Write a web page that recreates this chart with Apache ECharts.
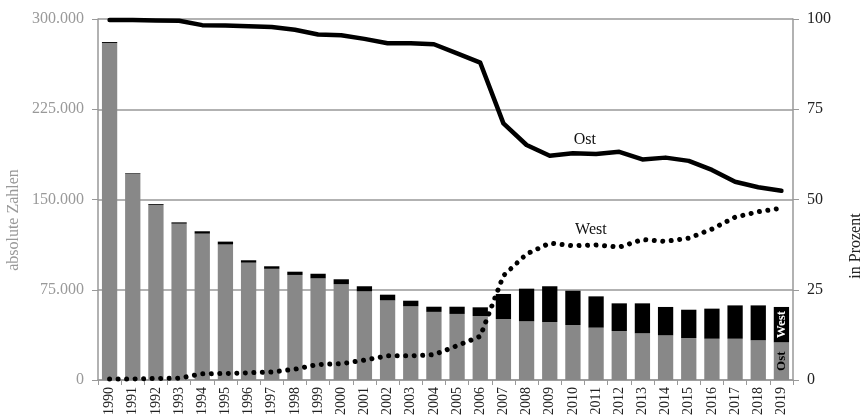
<!DOCTYPE html>
<html><head><meta charset="utf-8">
<script src="https://cdn.jsdelivr.net/npm/echarts@6/dist/echarts.min.js"></script>
<style>html,body{margin:0;padding:0;background:#fff}#c{width:865px;height:419px}</style>
</head><body><div id="c"></div>
<script>
const years = ['1990','1991','1992','1993','1994','1995','1996','1997','1998','1999','2000','2001','2002','2003','2004','2005','2006','2007','2008','2009','2010','2011','2012','2013','2014','2015','2016','2017','2018','2019'];
const ostAbs = [280100,171500,145500,129900,121600,112600,97500,92400,87300,84500,79700,73700,66200,61400,56600,54900,53200,50700,48800,48200,45700,43500,40700,38800,37100,34900,34300,34300,33000,31300];
const westAbs = [800,500,700,1100,2000,2400,2000,2100,2700,3800,4000,4200,4700,4500,4300,6000,7200,20800,27100,29700,28500,26000,23000,24900,23600,23500,25000,27700,29000,29400];
const ostPct = [99.7,99.7,99.6,99.5,98.3,98.2,98.0,97.8,97.0,95.7,95.5,94.5,93.3,93.3,93.0,90.5,87.9,71.1,65.1,62.1,62.8,62.6,63.2,61.1,61.6,60.7,58.2,54.9,53.4,52.4];
const westPct = [0.3,0.3,0.4,0.5,1.7,1.8,2.0,2.2,3.0,4.3,4.5,5.5,6.7,6.7,7.0,9.5,12.1,28.9,34.9,37.9,37.2,37.4,36.8,38.9,38.4,39.3,41.8,45.1,46.6,47.6];
const leftTicks = {min:0, max:300000, interval:75000};
const rightTicks = {min:0, max:100, interval:25};

const serif = 'Liberation Serif';
const last = years.length - 1;
const fmtDe = v => String(v).replace(/\B(?=(\d{3})+(?!\d))/g, '.');

const ostBarData = ostAbs.map((v,i) => i === last ? {value:v, label:{show:true, formatter:'Ost', rotate:90, color:'#000', fontWeight:'bold', fontFamily:serif, fontSize:13, position:'inside'}} : v);
const westBarData = westAbs.map((v,i) => i === last ? {value:v, label:{show:true, formatter:'West', rotate:90, color:'#fff', fontWeight:'bold', fontFamily:serif, fontSize:13, position:'inside'}} : v);
const lblIdx = years.indexOf('2010');
const ostLineData = ostPct.map((v,i) => i === lblIdx ? {value:v, label:{show:true, formatter:'Ost', position:'top', distance:5, offset:[12,0], color:'#111', fontFamily:serif, fontSize:16}} : v);
const westLineData = westPct.map((v,i) => i === lblIdx ? {value:v, label:{show:true, formatter:'West', position:'top', distance:5, offset:[18,-3], color:'#111', fontFamily:serif, fontSize:16}} : v);

const chart = echarts.init(document.getElementById('c'), null, {renderer:'canvas'});
chart.setOption({
  animation:false,
  backgroundColor:'#fff',
  textStyle:{fontFamily:serif},
  grid:{left:98, right:72, top:19, bottom:39, containLabel:false},
  graphic:[
    {type:'text', rotation:Math.PI/2, x:14, y:220, style:{text:'absolute Zahlen', font:'16px "Liberation Serif"', fill:'#999', textAlign:'center', textVerticalAlign:'middle'}},
    {type:'text', rotation:Math.PI/2, x:856, y:246, style:{text:'in Prozent', font:'16px "Liberation Serif"', fill:'#222', textAlign:'center', textVerticalAlign:'middle'}}
  ],
  xAxis:{type:'category', data:years, boundaryGap:true,
    axisLine:{lineStyle:{color:'#999', width:1.5}},
    axisTick:{show:true, length:5, lineStyle:{color:'#999'}},
    axisLabel:{rotate:90, color:'#222', fontFamily:serif, fontSize:14, margin:7}},
  yAxis:[
    {type:'value', min:leftTicks.min, max:leftTicks.max, interval:leftTicks.interval,
      axisLine:{show:true, lineStyle:{color:'#999', width:1.5}},
      axisTick:{show:true, length:6, lineStyle:{color:'#999'}},
      axisLabel:{color:'#999', fontFamily:serif, fontSize:16, margin:14, formatter:fmtDe},
      splitLine:{show:true, lineStyle:{color:'#999', width:1.5}}},
    {type:'value', min:rightTicks.min, max:rightTicks.max, interval:rightTicks.interval, position:'right',
      axisLine:{show:true, lineStyle:{color:'#999', width:1.5}},
      axisTick:{show:true, length:6, lineStyle:{color:'#999'}},
      axisLabel:{color:'#222', fontFamily:serif, fontSize:16, margin:14},
      splitLine:{show:false}}
  ],
  series:[
    {name:'Ost', type:'bar', stack:'abs', data:ostBarData, barCategoryGap:'34%', itemStyle:{color:'#888'}, z:2},
    {name:'West', type:'bar', stack:'abs', data:westBarData, itemStyle:{color:'#000'}, z:2},
    {name:'Ost %', type:'line', yAxisIndex:1, data:ostLineData, symbol:'circle', symbolSize:0.01, showSymbol:true, itemStyle:{color:'#000'}, lineStyle:{color:'#000', width:4.5, join:'round', cap:'round'}, z:5},
    {name:'West %', type:'line', yAxisIndex:1, data:westLineData, symbol:'circle', symbolSize:0.01, showSymbol:true, itemStyle:{color:'#000'}, lineStyle:{color:'#000', width:5, type:[0.01,8.5], cap:'round'}, z:5}
  ]
});
</script></body></html>
